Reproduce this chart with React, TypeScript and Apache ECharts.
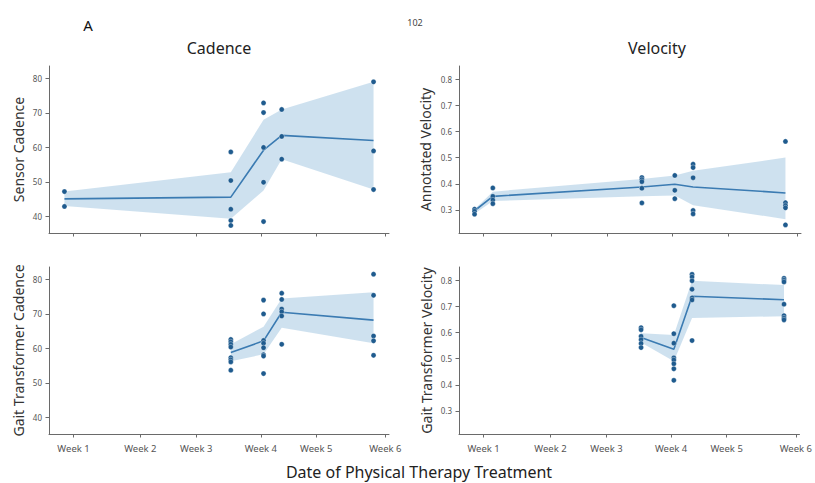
import React, { useEffect, useRef } from "react";
import * as echarts from "echarts";

// x positions are days since the first session
const weekTicks = [1.0, 8.35, 14.5, 21.6, 27.7, 35.3];
const weekLabels = ["Week 1", "Week 2", "Week 3", "Week 4", "Week 5", "Week 6"];
const cadenceTicks = [40, 50, 60, 70, 80];
const velocityTicks = [0.3, 0.4, 0.5, 0.6, 0.7, 0.8];

// Sensor Cadence (top-left)
const sensorCadenceX = [0, 18.3, 21.9, 23.9, 34.0];
const sensorCadencePts = [
  [47.2, 42.9],
  [58.7, 50.4, 42.1, 38.8, 37.4],
  [72.9, 70.1, 60.0, 49.9, 38.5],
  [71.0, 63.2, 56.6],
  [79.0, 59.0, 47.8],
];
const sensorCadenceMean = [45.1, 45.6, 59.2, 63.5, 62.0];
const sensorCadenceLo = [43.0, 39.3, 47.5, 56.6, 47.8];
const sensorCadenceHi = [47.2, 52.8, 68.0, 71.0, 79.0];

// Annotated Velocity (top-right)
const annotVelX = [0, 2, 18.3, 21.9, 23.9, 34.0];
const annotVelPts = [
  [0.303, 0.295, 0.284],
  [0.384, 0.352, 0.338, 0.324],
  [0.424, 0.416, 0.408, 0.383, 0.327],
  [0.432, 0.375, 0.343],
  [0.475, 0.462, 0.423, 0.298, 0.285],
  [0.562, 0.328, 0.317, 0.308, 0.243],
];
const annotVelMean = [0.297, 0.352, 0.388, 0.398, 0.388, 0.365];
const annotVelLo = [0.286, 0.334, 0.352, 0.355, 0.318, 0.265];
const annotVelHi = [0.303, 0.37, 0.418, 0.432, 0.45, 0.5];

// Gait Transformer Cadence (bottom-left)
const gtCadenceX = [18.3, 21.9, 23.9, 34.0];
const gtCadencePts = [
  [62.6, 61.9, 61.2, 60.4, 57.3, 56.7, 56.1, 53.7],
  [74.0, 70.0, 62.3, 61.5, 60.2, 58.2, 57.8, 52.7],
  [76.0, 74.2, 71.4, 70.6, 69.4, 61.2],
  [81.5, 75.4, 63.6, 62.2, 58.0],
];
const gtCadenceMean = [58.8, 62.2, 70.5, 68.2];
const gtCadenceLo = [56.3, 58.3, 66.0, 61.5];
const gtCadenceHi = [61.2, 66.3, 74.5, 76.3];

// Gait Transformer Velocity (bottom-right)
const gtVelX = [18.3, 21.9, 23.9, 34.0];
const gtVelPts = [
  [0.618, 0.61, 0.585, 0.572, 0.558, 0.542],
  [0.702, 0.595, 0.559, 0.503, 0.495, 0.48, 0.461, 0.417],
  [0.822, 0.812, 0.797, 0.765, 0.732, 0.724, 0.569],
  [0.807, 0.8, 0.793, 0.708, 0.664, 0.655, 0.648],
];
const gtVelMean = [0.581, 0.536, 0.738, 0.725];
const gtVelLo = [0.562, 0.49, 0.655, 0.662];
const gtVelHi = [0.597, 0.59, 0.797, 0.781];

const FONT = "Noto Sans";
const LINE = "#3b7bb2";
const DOT = "#1f5b8e";
const BAND = "rgba(31,119,180,0.22)";
const AXIS = "#6a6a6a";
const LABEL = "#555";

function bandSeries(xs: number[], lo: number[], hi: number[], idx: number) {
  return {
    type: "custom",
    xAxisIndex: idx,
    yAxisIndex: idx,
    z: 1,
    silent: true,
    data: [[xs[0], lo[0]]],
    renderItem: (_p: any, api: any) => {
      const pts: number[][] = [];
      for (let i = 0; i < xs.length; i++) pts.push(api.coord([xs[i], hi[i]]));
      for (let i = xs.length - 1; i >= 0; i--) pts.push(api.coord([xs[i], lo[i]]));
      return { type: "polygon", shape: { points: pts }, style: { fill: BAND, stroke: "none" } };
    },
  };
}

function lineSeries(xs: number[], mean: number[], idx: number) {
  return {
    type: "line",
    xAxisIndex: idx,
    yAxisIndex: idx,
    z: 2,
    symbol: "none",
    showSymbol: false,
    silent: true,
    lineStyle: { color: LINE, width: 1.6 },
    data: xs.map((x, i) => [x, mean[i]]),
  };
}

function scatterSeries(xs: number[], pts: number[][], idx: number) {
  const data: number[][] = [];
  xs.forEach((x, i) => pts[i].forEach((v) => data.push([x, v])));
  return {
    type: "scatter",
    xAxisIndex: idx,
    yAxisIndex: idx,
    z: 3,
    symbolSize: 5.2,
    silent: true,
    itemStyle: { color: DOT, borderColor: "rgba(255,255,255,0.7)", borderWidth: 0.5, opacity: 1 },
    data,
  };
}

function xAxis(idx: number, showLabels: boolean) {
  return {
    type: "value",
    gridIndex: idx,
    min: -1.7,
    max: 35.7,
    axisLine: { show: true, onZero: false, lineStyle: { color: AXIS, width: 1 } },
    axisTick: { show: true, length: 3.5, customValues: weekTicks, lineStyle: { color: AXIS } },
    axisLabel: {
      show: showLabels,
      customValues: weekTicks,
      margin: 9,
      fontSize: 9.5,
      fontFamily: FONT,
      color: LABEL,
      formatter: (v: number) => {
        const i = weekTicks.findIndex((t) => Math.abs(t - v) < 1e-6);
        return i >= 0 ? weekLabels[i] : "";
      },
    },
    splitLine: { show: false },
  };
}

function yAxis(idx: number, name: string, min: number, max: number, ticks: number[], gap: number, dec: number) {
  return {
    type: "value",
    gridIndex: idx,
    min,
    max,
    name,
    nameLocation: "middle",
    nameRotate: 90,
    nameGap: gap,
    nameTextStyle: { fontSize: 14, fontFamily: FONT, color: "#333" },
    axisLine: { show: true, onZero: false, lineStyle: { color: AXIS, width: 1 } },
    axisTick: { show: true, length: 3.5, customValues: ticks, lineStyle: { color: AXIS } },
    axisLabel: {
      customValues: ticks,
      margin: 7,
      fontSize: 8,
      fontFamily: FONT,
      color: LABEL,
      formatter: (v: number) => v.toFixed(dec),
    },
    splitLine: { show: false },
  };
}

export default function App() {
  const ref = useRef<HTMLDivElement>(null);
  useEffect(() => {
    document.body.style.margin = "0";
    if (!ref.current) return;
    const chart = echarts.init(ref.current, undefined, { renderer: "svg" });
    chart.setOption({
      animation: false,
      backgroundColor: "#ffffff",
      grid: [
        { left: 49, top: 66, width: 340, height: 167 },
        { left: 459, top: 66, width: 342, height: 167 },
        { left: 49, top: 267, width: 340, height: 167 },
        { left: 459, top: 267, width: 342, height: 167 },
      ],
      xAxis: [xAxis(0, false), xAxis(1, false), xAxis(2, true), xAxis(3, true)],
      yAxis: [
        yAxis(0, "Sensor Cadence", 35.2, 83.6, cadenceTicks, 24, 0),
        yAxis(1, "Annotated Velocity", 0.212, 0.85, velocityTicks, 27, 1),
        yAxis(2, "Gait Transformer Cadence", 35.2, 83.6, cadenceTicks, 24, 0),
        yAxis(3, "Gait Transformer Velocity", 0.212, 0.85, velocityTicks, 26, 1),
      ],
      series: [
        bandSeries(sensorCadenceX, sensorCadenceLo, sensorCadenceHi, 0),
        lineSeries(sensorCadenceX, sensorCadenceMean, 0),
        scatterSeries(sensorCadenceX, sensorCadencePts, 0),
        bandSeries(annotVelX, annotVelLo, annotVelHi, 1),
        lineSeries(annotVelX, annotVelMean, 1),
        scatterSeries(annotVelX, annotVelPts, 1),
        bandSeries(gtCadenceX, gtCadenceLo, gtCadenceHi, 2),
        lineSeries(gtCadenceX, gtCadenceMean, 2),
        scatterSeries(gtCadenceX, gtCadencePts, 2),
        bandSeries(gtVelX, gtVelLo, gtVelHi, 3),
        lineSeries(gtVelX, gtVelMean, 3),
        scatterSeries(gtVelX, gtVelPts, 3),
      ],
      graphic: [
        { type: "text", x: 88, y: 25, style: { text: "A", font: `15px "${FONT}"`, fill: "#111", textAlign: "center", textVerticalAlign: "middle" } },
        { type: "text", x: 415, y: 22, style: { text: "102", font: `9px "${FONT}"`, fill: "#444", textAlign: "center", textVerticalAlign: "middle" } },
        { type: "text", x: 219, y: 47.5, style: { text: "Cadence", font: `16px "${FONT}"`, fill: "#222", textAlign: "center", textVerticalAlign: "middle" } },
        { type: "text", x: 657, y: 47.5, style: { text: "Velocity", font: `16px "${FONT}"`, fill: "#222", textAlign: "center", textVerticalAlign: "middle" } },
        { type: "text", x: 419, y: 472, style: { text: "Date of Physical Therapy Treatment", font: `16px "${FONT}"`, fill: "#222", textAlign: "center", textVerticalAlign: "middle" } },
      ],
    });
    return () => chart.dispose();
  }, []);
  return <div ref={ref} style={{ width: 815, height: 483 }} />;
}
